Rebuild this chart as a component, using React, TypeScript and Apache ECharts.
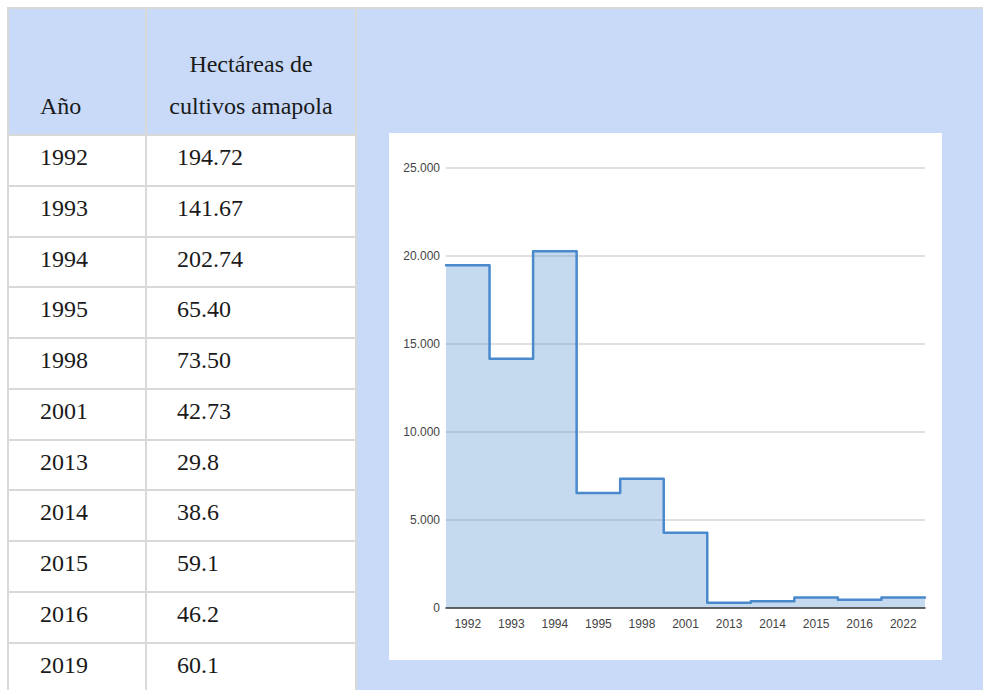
import React, { useEffect, useRef } from "react";
import * as echarts from "echarts";

// Table data
const tableHeaderYear = "Año";
const tableHeaderValueLines = ["Hectáreas de", "cultivos amapola"];
const tableYears = ["1992", "1993", "1994", "1995", "1998", "2001", "2013", "2014", "2015", "2016", "2019"];
const tableValues = ["194.72", "141.67", "202.74", "65.40", "73.50", "42.73", "29.8", "38.6", "59.1", "46.2", "60.1"];

// Chart data
const chartCategories = ["1992", "1993", "1994", "1995", "1998", "2001", "2013", "2014", "2015", "2016", "2022"];
const chartValues = [19472, 14167, 20274, 6540, 7350, 4273, 298, 386, 591, 462, 601];
const yTicks = [0, 5000, 10000, 15000, 20000, 25000];

const BLUE_BG = "#c9daf8";
const BORDER = "#d9d9d9";
const SERIF = '"Liberation Serif", "Times New Roman", Times, serif';
const SANS = '"Liberation Sans", Arial, Helvetica, sans-serif';

function Chart() {
  const ref = useRef<HTMLDivElement>(null);
  useEffect(() => {
    if (!ref.current) return;
    const chart = echarts.init(ref.current, undefined, { renderer: "svg" });
    const stepData: [number, number][] = chartValues.map((v, i) => [i, v]);
    stepData.push([chartValues.length, chartValues[chartValues.length - 1]]);
    chart.setOption({
      animation: false,
      backgroundColor: "#ffffff",
      grid: { left: 57, right: 17, top: 35, bottom: 52, containLabel: false },
      xAxis: [
        {
          type: "category",
          data: chartCategories,
          boundaryGap: true,
          z: 5,
          axisLine: { show: true, lineStyle: { color: "#3c3c3c", width: 1.5 } },
          axisTick: { show: false },
          splitLine: { show: false },
          axisLabel: { color: "#444", fontSize: 12, fontFamily: SANS, margin: 10, interval: 0 },
        },
        {
          type: "value",
          min: 0,
          max: chartCategories.length,
          show: false,
          splitLine: { show: false },
        },
      ],
      yAxis: {
        type: "value",
        min: yTicks[0],
        max: yTicks[yTicks.length - 1],
        interval: yTicks[1] - yTicks[0],
        axisLine: { show: false },
        axisTick: { show: false },
        splitLine: { show: true, lineStyle: { color: "#d6d6d6", width: 1.5 } },
        axisLabel: {
          color: "#444",
          fontSize: 12,
          fontFamily: SANS,
          margin: 6,
          formatter: (v: number) => String(v).replace(/\B(?=(\d{3})+(?!\d))/g, "."),
        },
      },
      series: [
        {
          type: "line",
          xAxisIndex: 1,
          data: stepData,
          step: "end",
          symbol: "none",
          z: 2,
          lineStyle: { color: "#4a89cc", width: 2.5, join: "round", cap: "round" },
          areaStyle: { color: "#4a89cc", opacity: 0.32 },
        },
      ],
    });
    return () => chart.dispose();
  }, []);
  return <div ref={ref} style={{ width: 553, height: 527 }} />;
}

export default function App() {
  const rowTop0 = 135;
  const rowH = 50.75;
  const abs = (s: React.CSSProperties): React.CSSProperties => ({ position: "absolute", ...s });
  return (
    <div
      style={{
        position: "fixed",
        left: 0,
        top: 0,
        width: 983,
        height: 690,
        overflow: "hidden",
        background: "#ffffff",
        fontFamily: SERIF,
        color: "#1a1a1a",
      }}
    >
      {/* header background */}
      <div style={abs({ left: 8, top: 8, width: 348, height: 127, background: BLUE_BG })} />
      {/* right panel */}
      <div style={abs({ left: 356, top: 8, width: 627, height: 682, background: BLUE_BG })} />
      {/* borders */}
      <div style={abs({ left: 7, top: 7, width: 976, height: 2, background: BORDER })} />
      <div style={abs({ left: 7, top: 7, width: 2, height: 683, background: BORDER })} />
      <div style={abs({ left: 145, top: 7, width: 2, height: 683, background: BORDER })} />
      <div style={abs({ left: 355, top: 7, width: 2, height: 683, background: BORDER })} />
      {tableYears.map((_, i) => (
        <div
          key={"rl" + i}
          style={abs({ left: 8, top: Math.round(rowTop0 + i * rowH) - 1, width: 348, height: 2, background: BORDER })}
        />
      ))}
      {/* header text */}
      <div style={abs({ left: 40, top: 94, fontSize: 24, lineHeight: "24px", whiteSpace: "nowrap" })}>{tableHeaderYear}</div>
      {tableHeaderValueLines.map((t, i) => (
        <div
          key={"h" + i}
          style={abs({ left: 146, width: 210, top: 52 + i * 42, fontSize: 24, lineHeight: "24px", textAlign: "center", whiteSpace: "nowrap" })}
        >
          {t}
        </div>
      ))}
      {/* rows */}
      {tableYears.map((y, i) => (
        <div key={"y" + i} style={abs({ left: 40, top: rowTop0 + i * rowH + 10, fontSize: 24, lineHeight: "24px", whiteSpace: "nowrap" })}>
          {y}
        </div>
      ))}
      {tableValues.map((v, i) => (
        <div key={"v" + i} style={abs({ left: 177, top: rowTop0 + i * rowH + 10, fontSize: 24, lineHeight: "24px", whiteSpace: "nowrap" })}>
          {v}
        </div>
      ))}
      {/* chart */}
      <div style={abs({ left: 389, top: 133, width: 553, height: 527, background: "#ffffff" })}>
        <Chart />
      </div>
    </div>
  );
}
